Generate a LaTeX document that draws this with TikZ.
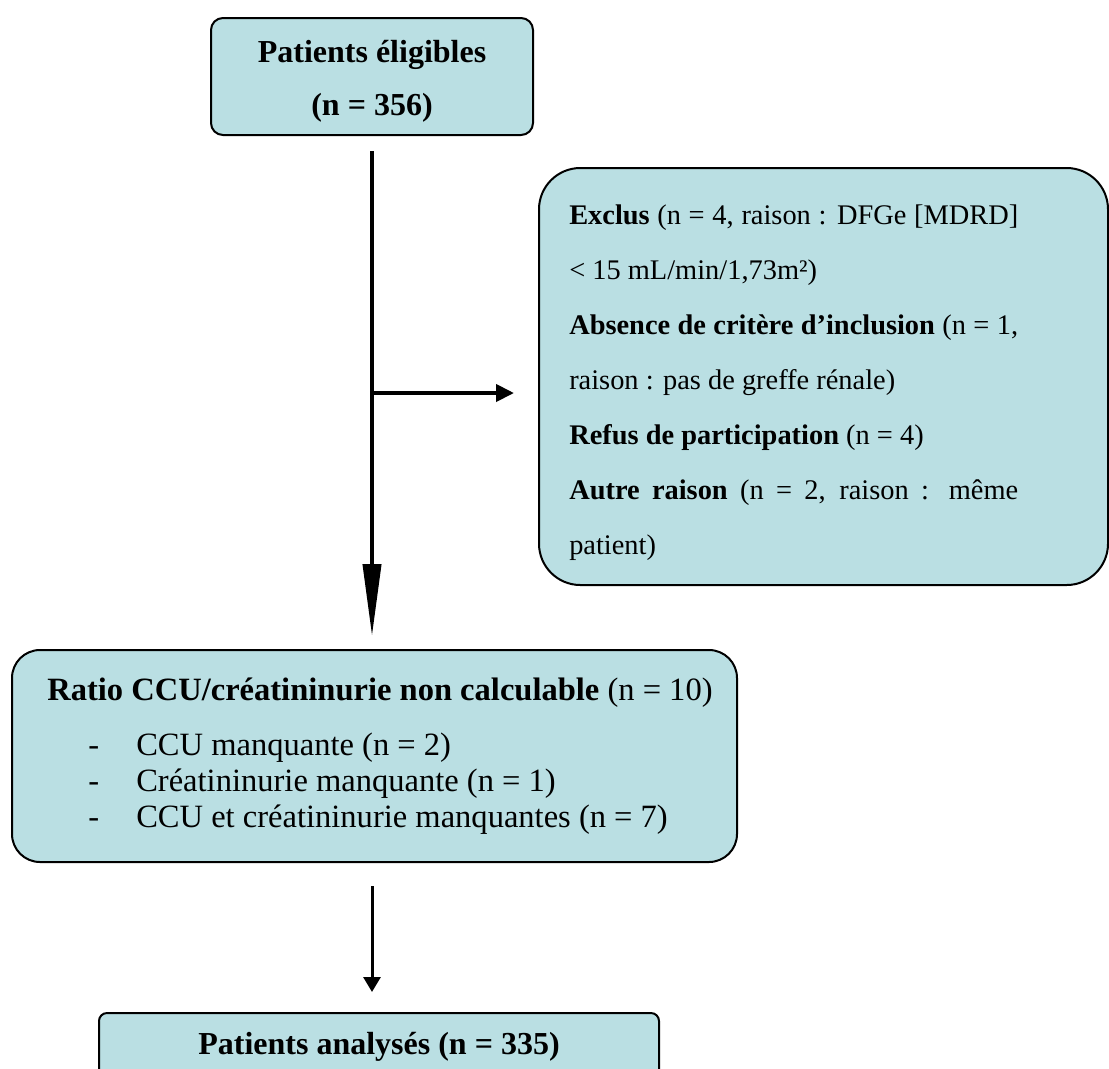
\documentclass[tikz,border=0pt]{standalone}
\usepackage{fontspec}
\setmainfont{Liberation Serif}
\usetikzlibrary{arrows.meta}
\definecolor{boxfill}{RGB}{186,223,227}
\tikzset{
  flowbox/.style={draw=black, line width=1.5pt, fill=boxfill, inner sep=0pt},
  bigtxt/.style={inner sep=0pt, font=\fontsize{24}{28}\selectfont},
  midtxt/.style={inner sep=0pt, font=\fontsize{24.4}{28}\selectfont},
  smalltxt/.style={inner sep=0pt, font=\fontsize{21.3}{25}\selectfont},
  conn/.style={draw=black, line width=3pt}
}
\begin{document}
\begin{tikzpicture}[x=0.75pt,y=-0.75pt]
\useasboundingbox (0,0) rectangle (1109,1068);
\clip (0,0) rectangle (1109,1068);
\fill[white] (0,0) rectangle (1109,1068);

% boxes
\node[flowbox, rounded corners=9pt, minimum width=241.5pt, minimum height=87.75pt] (top) at (372,76.5) {};
\node[flowbox, rounded corners=31pt, minimum width=426.75pt, minimum height=312.75pt] (excl) at (823.5,376.5) {};
\node[flowbox, rounded corners=21pt, minimum width=543.75pt, minimum height=159pt] (mid) at (374.5,756) {};
\node[flowbox, rounded corners=6pt, minimum width=420pt, minimum height=65.25pt] (bot) at (379,1056.5) {};

% top box text
\node[bigtxt, anchor=base] (t1) at (372,62) {\textbf{Patients éligibles}};
\node[bigtxt, anchor=base] (t2) at (372,115) {\textbf{(n = 356)}};

% exclusion box text
\node[smalltxt, anchor=base west] (r1) at (569,224) {\makebox[336.75pt][s]{\textbf{Exclus} (n = 4, raison : DFGe [MDRD]}};
\node[smalltxt, anchor=base west] (r2) at (569,279) {< 15 mL/min/1,73m²)};
\node[smalltxt, anchor=base west] (r3) at (569,334) {\makebox[336.75pt][s]{\textbf{Absence de critère d’inclusion} (n = 1,}};
\node[smalltxt, anchor=base west] (r4) at (569,389) {raison : pas de greffe rénale)};
\node[smalltxt, anchor=base west] (r5) at (569,444) {\textbf{Refus de participation} (n = 4)};
\node[smalltxt, anchor=base west] (r6) at (569,499) {\makebox[336.75pt][s]{\textbf{Autre raison} (n = 2, raison : même}};
\node[smalltxt, anchor=base west] (r7) at (569,554) {patient)};

% middle box text
\node[midtxt, anchor=base west] (m0) at (47,700) {\textbf{Ratio CCU/créatininurie non calculable} (n = 10)};
\node[midtxt, anchor=base west] (d1) at (88,755) {-};
\node[midtxt, anchor=base west] (m1) at (136,755) {CCU manquante (n = 2)};
\node[midtxt, anchor=base west] (d2) at (88,791) {-};
\node[midtxt, anchor=base west] (m2) at (136,791) {Créatininurie manquante (n = 1)};
\node[midtxt, anchor=base west] (d3) at (88,827) {-};
\node[midtxt, anchor=base west] (m3) at (136,827) {CCU et créatininurie manquantes (n = 7)};

% bottom box text
\node[bigtxt, anchor=base] (b1) at (379,1054) {\textbf{Patients analysés (n = 335)}};

% connectors
\coordinate (split) at (372,393);
\draw[conn, -{Triangle[length=54pt,width=13.5pt]}, shorten <=11.25pt, shorten >=9.75pt] (top.south -| split) -- (mid.north -| split);
\draw[conn, -{Triangle[length=13.5pt,width=12.75pt]}, shorten >=18pt] (split) -- (excl.west |- split);
\draw[conn, line width=2.25pt, -{Triangle[length=11.25pt,width=12.75pt]}, shorten <=17.25pt, shorten >=15pt] (mid.south -| split) -- (bot.north -| split);
\end{tikzpicture}
\end{document}
